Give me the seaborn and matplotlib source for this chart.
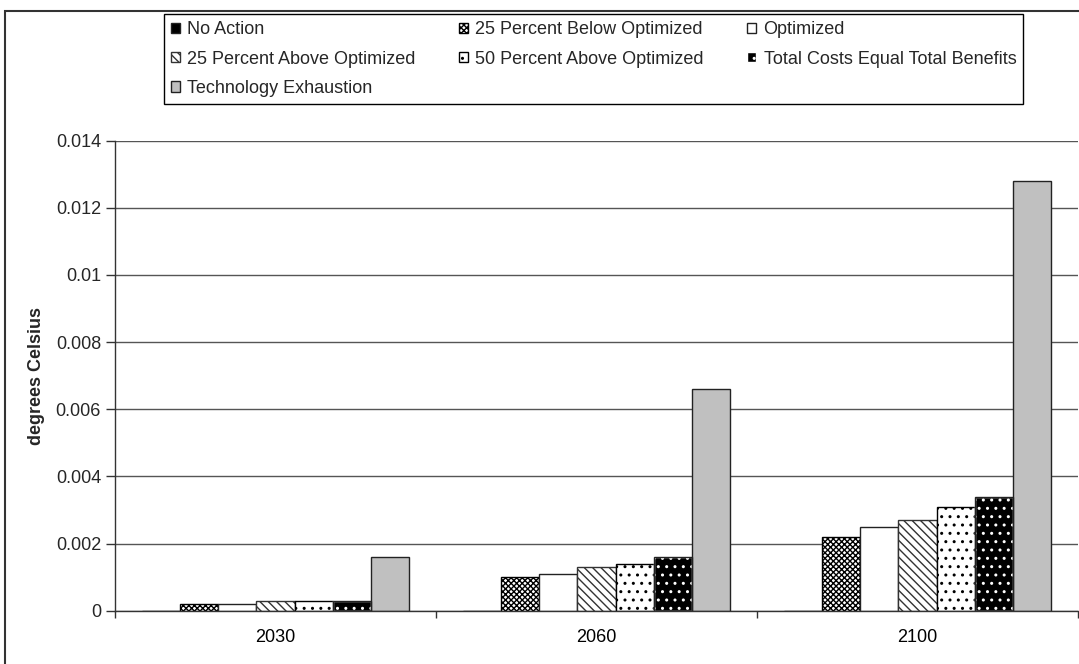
"""Temperature change by scenario - grouped bar chart"""
import numpy as np
import pandas as pd
import matplotlib
matplotlib.use("Agg")
import matplotlib.pyplot as plt
import seaborn as sns
from matplotlib.patches import Rectangle
from matplotlib.ticker import FuncFormatter, MultipleLocator

years = ["2030", "2060", "2100"]
scenarios = ["No Action", "25 Percent Below Optimized", "Optimized",
             "25 Percent Above Optimized", "50 Percent Above Optimized",
             "Total Costs Equal Total Benefits", "Technology Exhaustion"]

no_action = [0.0, 0.0, 0.0]
below_25 = [0.0002, 0.0010, 0.0022]
optimized = [0.0002, 0.0011, 0.0025]
above_25 = [0.0003, 0.0013, 0.0027]
above_50 = [0.0003, 0.0014, 0.0031]
total_costs = [0.0003, 0.0016, 0.0034]
tech_exhaustion = [0.0016, 0.0066, 0.0128]

series = [no_action, below_25, optimized, above_25, above_50, total_costs, tech_exhaustion]

rows = []
for name, vals in zip(scenarios, series):
    for yr, v in zip(years, vals):
        rows.append({"year": yr, "value": v, "scenario": name})
df = pd.DataFrame(rows)

faces = ["black", "white", "white", "white", "white", "black", "#c0c0c0"]
hatches = [None, "xxxxxx", None, "\\\\\\\\", "..", "..", None]
hatch_edges = ["#222222", "black", "#222222", "#333333", "black", "white", "#222222"]

sns.set_theme(style="white")
plt.rcParams["font.family"] = ["Liberation Sans", "DejaVu Sans"]
plt.rcParams["hatch.linewidth"] = 1.0

fig = plt.figure(figsize=(10.79, 6.64), dpi=100)
ax = fig.add_axes([115 / 1079, 1 - 610.7 / 664, (1078 - 115) / 1079, (610.7 - 140.5) / 664])

sns.barplot(data=df, x="year", y="value", hue="scenario", hue_order=scenarios,
            order=years, palette=dict(zip(scenarios, faces)), width=0.83,
            saturation=1, errorbar=None, edgecolor="#222222", linewidth=1,
            legend=False, ax=ax)

for cont, h, ec in zip(ax.containers, hatches, hatch_edges):
    for p in cont.patches:
        if h:
            p.set_hatch(h)
        p.set_edgecolor(ec)
        if ec == "white":
            # white dots on black: redraw the dark outline on top
            ax.add_patch(Rectangle(p.get_xy(), p.get_width(), p.get_height(),
                                   fill=False, edgecolor="#222222", lw=1, zorder=p.get_zorder() + 0.1))

ax.set_ylim(0, 0.014)
ax.set_xlim(-0.5, 2.5)
ax.yaxis.set_major_locator(MultipleLocator(0.002))
ax.yaxis.set_major_formatter(FuncFormatter(lambda v, pos: "%g" % round(v, 6)))
ax.set_axisbelow(True)
ax.grid(axis="y", color="#555555", lw=1)
ax.grid(axis="x", visible=False)

ax.set_xticks([0, 1, 2])
ax.set_xticklabels(years)
ax.set_xticks([-0.5, 0.5, 1.5, 2.5], minor=True)
ax.tick_params(axis="x", which="major", length=0, pad=13.5, labelsize=13, colors="black")
ax.tick_params(axis="x", which="minor", length=5, width=1, color="#333333", bottom=True)
ax.tick_params(axis="y", length=6.5, width=1, pad=3.5, labelsize=13, color="#333333", left=True)

for s in ["top", "right"]:
    ax.spines[s].set_visible(False)
for s in ["left", "bottom"]:
    ax.spines[s].set_color("#333333")
    ax.spines[s].set_linewidth(1)

ax.set_xlabel("")
ax.set_ylabel("degrees Celsius", fontsize=13, fontweight="bold", labelpad=8)

# legend laid out row by row like the original (matplotlib fills columns)
order = [0, 3, 6, 1, 4, 2, 5]
handles = [ax.containers[i].patches[0] for i in order]
labels = [scenarios[i] for i in order]
leg = fig.legend(handles, labels, ncol=3, loc="upper left",
                 bbox_to_anchor=(164 / 1079, 1 - 14 / 664), fontsize=13,
                 frameon=True, fancybox=False, edgecolor="black", framealpha=1,
                 handlelength=0.5, handleheight=0.5, handletextpad=0.4,
                 columnspacing=2.4, labelspacing=0.68, borderpad=0.4,
                 borderaxespad=0)
leg.get_frame().set_linewidth(1)

# outer chart border
fig.patches.append(Rectangle((5 / 1079, -0.05), 1.2, 1 - 11 / 664 + 0.05,
                             transform=fig.transFigure, fill=False,
                             edgecolor="#333333", lw=1.5))

fig.savefig("out.png", dpi=100)
